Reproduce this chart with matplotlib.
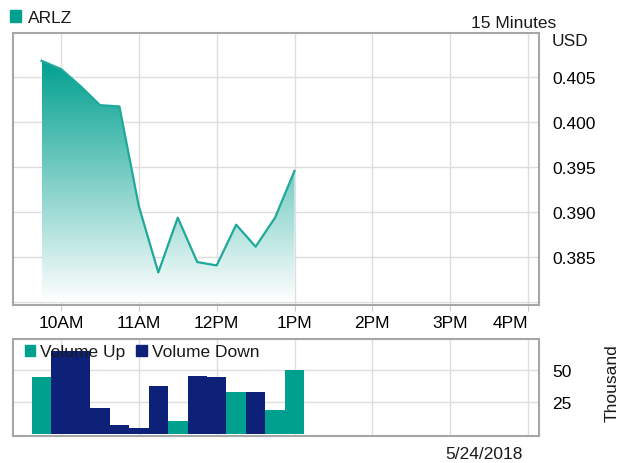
import numpy as np
import matplotlib
matplotlib.use("Agg")
import matplotlib.pyplot as plt
from matplotlib.patches import Patch

plt.rcParams['font.family'] = ['Liberation Sans', 'DejaVu Sans']
plt.rcParams['font.size'] = 12.5
plt.rcParams['text.color'] = '#1a1a1a'

# 15 minute bars for ARLZ, 5/24/2018
bar_times = ["9:45", "10:00", "10:15", "10:30", "10:45", "11:00", "11:15",
             "11:30", "11:45", "12:00", "12:15", "12:30", "12:45", "13:00"]
price = [0.40681, 0.40589, 0.40400, 0.40189, 0.40174, 0.39067, 0.38333,
         0.38941, 0.38448, 0.38411, 0.38863, 0.38619, 0.38941, 0.39459]
volume = [44.5, 65, 65, 20, 7, 5, 37.5, 10, 45, 44.5, 33, 33, 19, 50]   # thousand
direction = ["up", "down", "down", "down", "down", "down", "down",
             "up", "down", "down", "up", "down", "up", "up"]

hour_ticks = [10, 11, 12, 13, 14, 15, 16]
hour_labels = ["10AM", "11AM", "12PM", "1PM", "2PM", "3PM", "4PM"]
price_ticks = [0.380, 0.385, 0.390, 0.395, 0.400, 0.405]
price_labels = ["", "0.385", "0.390", "0.395", "0.400", "0.405"]
vol_ticks = [25, 50]

teal = '#00a08f'
line_teal = '#1fa99a'
navy = '#0c2177'
grid_c = '#dedede'
frame_c = '#a6a6a6'

t = np.array([int(s.split(":")[0]) + int(s.split(":")[1]) / 60 for s in bar_times])
xlim = (9.383, 16.141)
ylim = (0.37972, 0.40989)

fig = plt.figure(figsize=(6.22, 4.64), dpi=100)
ax = fig.add_axes([13/622, 1 - 306/464, 526/622, 272/464])
axv = fig.add_axes([13/622, 1 - 437/464, 526/622, 97/464])

# price area: opaque fade from teal down to white
poly = ax.fill_between(t, price, 0.380, facecolor='none', edgecolor='none')
rgb = np.array(matplotlib.colors.to_rgb(teal))
k = np.linspace(1.0, 0.0, 256).reshape(-1, 1, 1)
grad = k * rgb + (1 - k) * np.ones(3)
im = ax.imshow(grad, extent=[t[0], t[-1], 0.380, max(price)], aspect='auto',
               origin='upper', zorder=1)
im.set_clip_path(poly.get_paths()[0], transform=ax.transData)
ax.plot(t, price, color=line_teal, lw=1.6, zorder=3)

ax.set_xlim(*xlim)
ax.set_ylim(*ylim)
ax.set_xticks(hour_ticks)
ax.set_xticklabels(hour_labels)
ax.get_xticklabels()[-1].set_ha('right')
ax.set_yticks(price_ticks)
ax.set_yticklabels(price_labels)
ax.yaxis.tick_right()
ax.tick_params(axis='y', length=0, pad=9.5)
ax.tick_params(axis='x', direction='out', length=4, color='#cccccc', pad=3)
ax.grid(color=grid_c, lw=1)
ax.set_axisbelow(True)

# volume bars
colors = [teal if d == "up" else navy for d in direction]
axv.bar(t, volume, width=0.25, color=colors, zorder=2)
axv.set_xlim(*xlim)
axv.set_ylim(-1.6, 74.2)
axv.set_xticks(hour_ticks)
axv.set_xticklabels([])
axv.tick_params(axis='x', length=0)
axv.set_yticks(vol_ticks)
axv.yaxis.tick_right()
axv.tick_params(axis='y', length=0, pad=9.5)
axv.grid(color=grid_c, lw=1)
axv.set_axisbelow(True)

for a in (ax, axv):
    for sp in a.spines.values():
        sp.set_color(frame_c)
        sp.set_linewidth(1.5)

fig.legend(handles=[Patch(color=teal, label="ARLZ")], loc='center left',
           bbox_to_anchor=(10/622, 1 - 18.5/464), frameon=False,
           borderpad=0, borderaxespad=0, handlelength=0.62, handleheight=0.7,
           handletextpad=0.4)
axv.legend(handles=[Patch(color=teal, label="Volume Up"),
                    Patch(color=navy, label="Volume Down")],
           loc='center left', bbox_to_anchor=(25/622, 1 - 353/464),
           bbox_transform=fig.transFigure, ncol=2, frameon=False,
           borderpad=0, borderaxespad=0, handlelength=0.58, handleheight=0.63,
           handletextpad=0.3, columnspacing=0.63)

fig.text(556/622, 1 - 23/464, "15 Minutes", ha='right', va='center')
fig.text(552/622, 1 - 42/464, "USD", ha='left', va='center')
fig.text(523/622, 1 - 455/464, "5/24/2018", ha='right', va='center')
fig.text(612/622, 1 - 383/464, "Thousand", rotation=90, ha='center', va='center')

fig.savefig("out.png", dpi=100)
